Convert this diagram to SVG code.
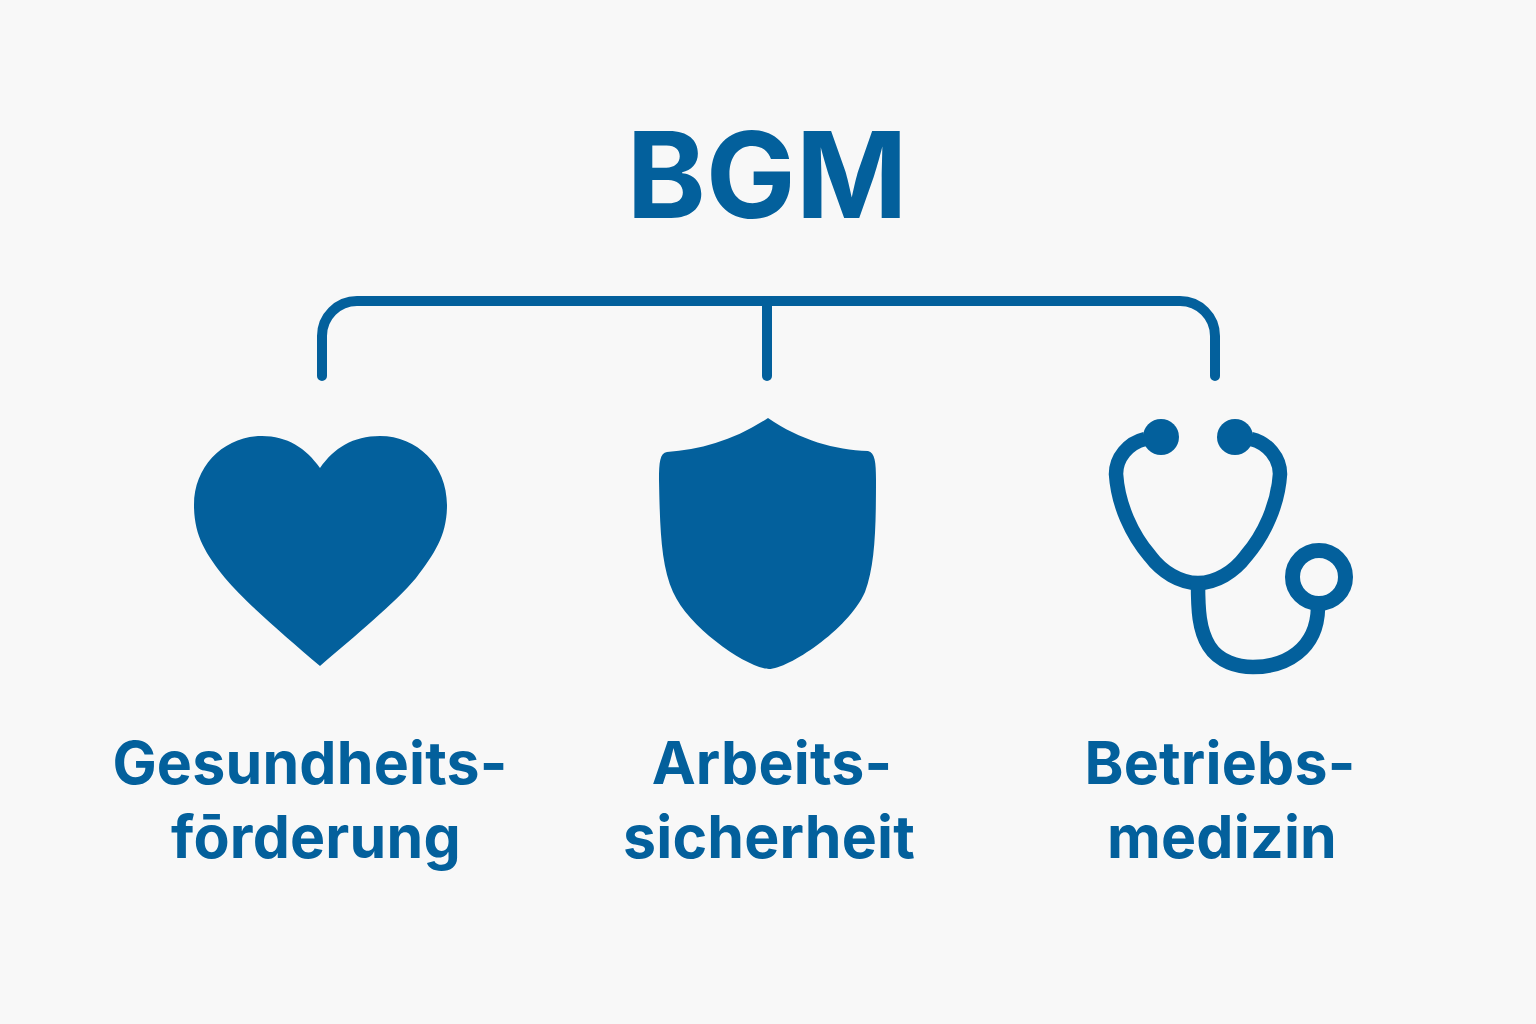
<svg xmlns="http://www.w3.org/2000/svg" width="1536" height="1024" viewBox="0 0 1536 1024">
<style>
.t{font-family:Inter,"Liberation Sans",sans-serif;font-weight:700;fill:#03609c;font-size:59px;letter-spacing:.2px;text-anchor:middle}
.h{font-family:Inter,"Liberation Sans",sans-serif;font-weight:700;fill:#03609c;font-size:120px;text-anchor:middle}
.c{fill:none;stroke:#03609c;stroke-width:10;stroke-linecap:round;stroke-linejoin:round}
.s{fill:none;stroke:#03609c;stroke-width:14.5;stroke-linecap:butt;stroke-linejoin:round}
.f{fill:#03609c}
</style>
<rect width="1536" height="1024" fill="#f8f8f8"/>
<g id="title"><text class="h" x="767" y="218">BGM</text></g>
<g id="connectors">
<path class="c" d="M322 376V336A35 35 0 0 1 357 301H1180A35 35 0 0 1 1215 336V376"/>
<path class="c" d="M767 301V376"/>
</g>
<g id="heart"><path class="f" d="M320 666C285 636 245 602 225 578C205 553 194 535 194 505C194 465 225 436 262 436C287 436 306 448 320 468C334 448 353 436 380 436C417 436 447 465 447 505C447 535 435 553 416 578C396 602 355 636 320 666Z"/>
<text class="t" x="310" y="784">Gesundheits-</text><text class="t" x="316" y="858">fōrderung</text></g>
<g id="shield"><path class="f" d="M768 418C735 440 700 450 667 452C660 453 659 462 659 480C660 530 661 565 673 592C690 630 750 669 769 669C788 669 848 630 865 592C875 565 876 530 876 480C876 462 875 453 868 451C835 450 800 440 768 418Z"/>
<text class="t" x="772" y="784">Arbeits-</text><text class="t" x="769" y="858">sicherheit</text></g>
<g id="stethoscope">
<path class="s" d="M1145 439C1128 443 1116 458 1116 474C1118 505 1132 535 1150 556C1162 572 1180 583 1198 583C1216 583 1234 572 1246 556C1264 535 1278 505 1280 474C1280 458 1268 443 1251 439"/>
<path class="s" d="M1198 583C1198 610 1199 630 1209 646C1219 662 1238 667 1253 667C1285 667 1317 650 1318 608"/>
<circle class="f" cx="1161" cy="437" r="18"/><circle class="f" cx="1235" cy="437" r="18"/>
<circle cx="1319" cy="577" r="26.5" fill="none" stroke="#03609c" stroke-width="15"/>
<text class="t" x="1220" y="784">Betriebs-</text><text class="t" x="1222" y="858">medizin</text></g>
</svg>
